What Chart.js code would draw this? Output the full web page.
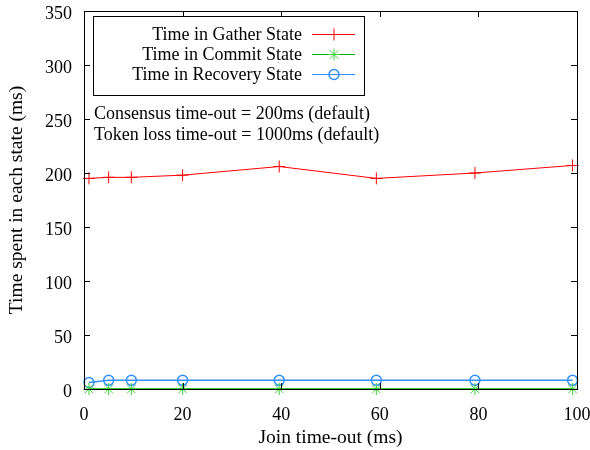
<!DOCTYPE html>
<html>
<head>
<meta charset="utf-8">
<script src="https://cdn.jsdelivr.net/npm/chart.js@4/dist/chart.umd.min.js"></script>
<style>
html, body { margin: 0; padding: 0; background: #fff; }
#wrap { width: 590px; height: 450px; }
</style>
</head>
<body>
<div id="wrap"><canvas id="chart"></canvas></div>
<script>
// join time-out values (ms)
var joinTimeout = [1, 5, 9.6, 20, 39.6, 59.3, 79.3, 99.1];
// time spent in each state (ms)
var gatherTime = [195, 196, 196, 198, 206, 195, 200, 207];
var commitTime = [0, 0, 0, 0, 0, 0, 0, 0];
var recoveryTime = [6, 8, 8, 8, 8, 8, 8, 8];
var seriesLabels = ["Time in Gather State", "Time in Commit State", "Time in Recovery State"];
var notes = ["Consensus time-out = 200ms (default)", "Token loss time-out = 1000ms (default)"];

var FONT = "Liberation Serif";
var FSIZE = 18;   // key, notes, tick labels
var ASIZE = 19.5; // axis titles

function toPoints(xs, ys) {
    var pts = [];
    for (var i = 0; i < xs.length; i++) {
        pts.push({ x: xs[i], y: ys[i] });
    }
    return pts;
}

// inward ticks on all four sides + frame, gnuplot style
var framePlugin = {
    id: 'frame',
    afterDatasetsDraw: function (chart) {
        var ctx = chart.ctx;
        var a = chart.chartArea;
        var xs = chart.scales.x, ys = chart.scales.y;
        ctx.save();
        ctx.strokeStyle = '#000';
        ctx.lineWidth = 1;
        ctx.strokeRect(Math.round(a.left) + 0.5, Math.round(a.top) + 0.5,
            Math.round(a.right - a.left), Math.round(a.bottom - a.top));
        ctx.beginPath();
        xs.ticks.forEach(function (t) {
            var px = Math.round(xs.getPixelForValue(t.value)) + 0.5;
            ctx.moveTo(px, a.bottom); ctx.lineTo(px, a.bottom - 6);
            ctx.moveTo(px, a.top); ctx.lineTo(px, a.top + 6);
        });
        ys.ticks.forEach(function (t) {
            var py = Math.round(ys.getPixelForValue(t.value)) + 0.5;
            ctx.moveTo(a.left, py); ctx.lineTo(a.left + 6, py);
            ctx.moveTo(a.right, py); ctx.lineTo(a.right - 6, py);
        });
        ctx.stroke();
        ctx.restore();
    }
};

// boxed key with samples on the right, plus the two notes
var keyPlugin = {
    id: 'key',
    afterDraw: function (chart) {
        var ctx = chart.ctx;
        ctx.save();
        ctx.strokeStyle = '#000';
        ctx.lineWidth = 1;
        ctx.strokeRect(93.5, 16.5, 271, 79);
        ctx.font = FSIZE + 'px "' + FONT + '"';
        ctx.textBaseline = 'middle';
        var rows = [34.5, 54.5, 74.5];
        chart.data.datasets.forEach(function (ds, i) {
            var y = rows[i];
            ctx.fillStyle = '#000';
            ctx.textAlign = 'right';
            ctx.fillText(ds.label, 302, y + 1);
            ctx.strokeStyle = ds.borderColor;
            ctx.lineWidth = 1;
            ctx.beginPath();
            ctx.moveTo(312, y);
            ctx.lineTo(355, y);
            ctx.stroke();
            ctx.strokeStyle = ds.pointBorderColor || ds.borderColor;
            ctx.fillStyle = 'rgba(0,0,0,0)';
            ctx.lineWidth = ds.pointBorderWidth;
            Chart.helpers.drawPoint(ctx, {
                pointStyle: ds.pointStyle,
                radius: ds.pointRadius,
                borderWidth: ds.pointBorderWidth,
                rotation: 0
            }, 334, y);
        });
        ctx.textAlign = 'left';
        ctx.fillStyle = '#000';
        ctx.fillText(notes[0], 94, 114);
        ctx.fillText(notes[1], 94, 135);
        ctx.restore();
    }
};

var ctx = document.getElementById('chart');
new Chart(ctx, {
    type: 'line',
    data: {
        datasets: [
            {
                label: seriesLabels[0],
                data: toPoints(joinTimeout, gatherTime),
                borderColor: '#ff0000',
                backgroundColor: '#ff0000',
                borderWidth: 1,
                pointStyle: 'cross',
                pointRadius: 6,
                pointBorderWidth: 1,
                clip: false
            },
            {
                label: seriesLabels[1],
                data: toPoints(joinTimeout, commitTime),
                borderColor: '#00b000',
                backgroundColor: '#00b000',
                pointBorderColor: '#40d040',
                borderWidth: 1.5,
                pointStyle: 'star',
                pointRadius: 6,
                pointBorderWidth: 1,
                clip: false
            },
            {
                label: seriesLabels[2],
                data: toPoints(joinTimeout, recoveryTime),
                borderColor: '#3090ff',
                backgroundColor: 'rgba(0,0,0,0)',
                borderWidth: 1.5,
                pointStyle: 'circle',
                pointRadius: 5,
                pointBorderWidth: 1.5,
                clip: false
            }
        ]
    },
    options: {
        responsive: true,
        maintainAspectRatio: false,
        animation: false,
        layout: { padding: { top: 11, right: 13, left: 0, bottom: 0 } },
        plugins: {
            legend: { display: false },
            tooltip: { enabled: false }
        },
        elements: { line: { tension: 0 } },
        scales: {
            x: {
                type: 'linear',
                min: 0,
                max: 100,
                grid: { display: false, drawTicks: false },
                border: { display: false },
                ticks: { stepSize: 20, padding: 15, color: '#000', font: { family: FONT, size: FSIZE } },
                title: {
                    display: true,
                    text: 'Join time-out (ms)',
                    color: '#000',
                    font: { family: FONT, size: ASIZE },
                    padding: { top: 1, bottom: 0 }
                },
                afterFit: function (scale) {
                    scale.height = 61;
                    scale.paddingLeft = 0;
                    scale.paddingRight = 0;
                }
            },
            y: {
                min: 0,
                max: 350,
                grid: { display: false, drawTicks: false },
                border: { display: false },
                ticks: { stepSize: 50, padding: 12, labelOffset: 3, color: '#000', font: { family: FONT, size: FSIZE } },
                title: {
                    display: true,
                    text: 'Time spent in each state (ms)',
                    color: '#000',
                    font: { family: FONT, size: ASIZE },
                    padding: { top: 5, bottom: 0 }
                },
                afterFit: function (scale) {
                    scale.width = 84;
                    scale.paddingTop = 0;
                    scale.paddingBottom = 0;
                }
            }
        }
    },
    plugins: [framePlugin, keyPlugin]
});
</script>
</body>
</html>
